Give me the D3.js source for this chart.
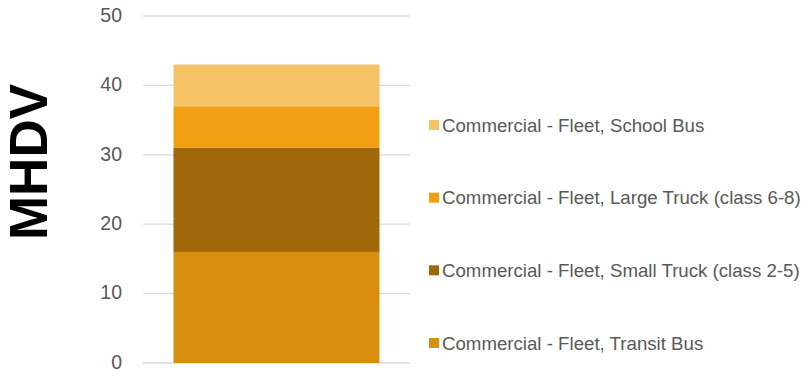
<!DOCTYPE html>
<html>
<head>
<meta charset="utf-8">
<script src="https://cdn.jsdelivr.net/npm/d3@7"></script>
<style>
  html, body { margin: 0; padding: 0; background: #fff; }
  svg { display: block; }
</style>
</head>
<body>
<svg id="chart" width="803" height="372"></svg>
<script>
// Stacked MHDV counts, bottom segment first
const series = [
  "Commercial - Fleet, Transit Bus",
  "Commercial - Fleet, Small Truck (class 2-5)",
  "Commercial - Fleet, Large Truck (class 6-8)",
  "Commercial - Fleet, School Bus"
];
const values = [16, 15, 6, 6];
const colors = ["#D88E0E", "#A0680A", "#F0A012", "#F5C266"];
const yTicks = [0, 10, 20, 30, 40, 50];
const category = ["MHDV"];

const svg = d3.select("#chart");
const font = "'Liberation Sans', Arial, sans-serif";

const y = d3.scaleLinear().domain([0, 50]).range([363, 16]);
const x = d3.scaleBand().domain(category).range([143, 410]).paddingInner(0).paddingOuter(0.148);

// gridlines
svg.append("g")
  .selectAll("line")
  .data(yTicks)
  .join("line")
  .attr("x1", 143).attr("x2", 410)
  .attr("y1", d => y(d)).attr("y2", d => y(d))
  .attr("stroke", "#d9d9d9").attr("stroke-width", 1.3);

// y axis labels
const yAxis = d3.axisLeft(y).tickValues(yTicks).tickSize(0).tickPadding(0);
const ga = svg.append("g").attr("transform", "translate(122,-1)").call(yAxis);
ga.select(".domain").remove();
ga.selectAll("text")
  .attr("font-family", font).attr("font-size", 19.5).attr("fill", "#595959");

// stacked segments
let acc = 0;
const stacked = values.map((v, i) => {
  const s = { key: series[i], y0: acc, y1: acc + v, color: colors[i] };
  acc += v;
  return s;
});
svg.append("g")
  .selectAll("rect")
  .data(stacked)
  .join("rect")
  .attr("x", x("MHDV"))
  .attr("width", x.bandwidth())
  .attr("y", d => y(d.y1))
  .attr("height", d => y(d.y0) - y(d.y1))
  .attr("fill", d => d.color);

// axis title
svg.append("text")
  .attr("transform", "translate(47,162) rotate(-90)")
  .attr("text-anchor", "middle")
  .attr("font-family", font).attr("font-weight", "bold").attr("font-size", 53)
  .attr("fill", "#000")
  .text(category[0]);

// legend, top entry is the top segment
const legendRows = stacked.slice().reverse();
const ly = d3.scalePoint().domain(legendRows.map(d => d.key)).range([125, 343]);
const lg = svg.append("g")
  .selectAll("g")
  .data(legendRows)
  .join("g")
  .attr("transform", d => `translate(429,${ly(d.key)})`);
lg.append("rect").attr("x", 0).attr("y", -5).attr("width", 10).attr("height", 10)
  .attr("fill", d => d.color);
lg.append("text").attr("x", 13).attr("dy", "0.35em")
  .attr("font-family", font).attr("font-size", 18.67).attr("fill", "#595959")
  .text(d => d.key);
</script>
</body>
</html>
